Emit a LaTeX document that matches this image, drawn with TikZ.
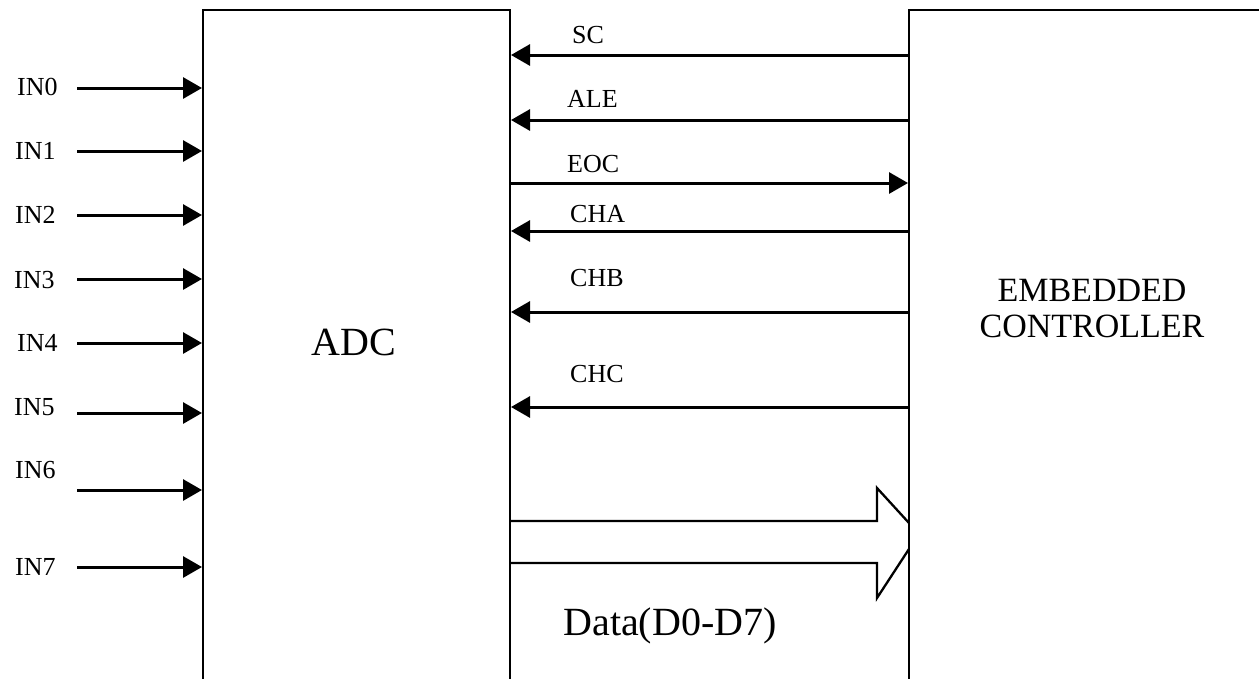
\documentclass[tikz,border=0pt]{standalone}
\usepackage{fontspec}
\setmainfont{Liberation Serif}
\usetikzlibrary{arrows.meta}
\begin{document}
\begin{tikzpicture}[x=1pt,y=-1pt,
  blockbox/.style={draw, line width=2pt, inner sep=0pt, anchor=north west},
  sig/.style={line width=3pt, -{Triangle[length=19pt,width=21pt]}},
  bus/.style={line width=2.3pt, line join=miter},
  lbl/.style={inner sep=0pt, anchor=west, font=\fontsize{26}{30}\selectfont},
  big/.style={inner sep=0pt, font=\fontsize{40}{46}\selectfont},
  mid/.style={inner sep=0pt, align=center, font=\fontsize{34}{38}\selectfont}]
\useasboundingbox (0,0) rectangle (1259,678);
% blocks
\node[blockbox, minimum width=307pt, minimum height=720pt] (adc) at (202,9) {};
\node[blockbox, minimum width=400pt, minimum height=720pt] (ctl) at (908,9) {};
\node[big] (adct) at (354,342) {ADC};
\node[mid] (ctlt) at (1092,309) {EMBEDDED\\[-2pt]CONTROLLER};
% analog inputs
\foreach \n/\ly/\ay/\lx in {0/87/88/17, 1/151/151/15, 2/215/215/15, 3/280/279/14,
                            4/343/343/17, 5/407/413/14, 6/470/490/15, 7/567/567/15}{
  \node[lbl] (in\n) at (\lx,\ly) {IN\n};
  \coordinate (s\n) at (77,\ay);
  \draw[sig] (s\n) -- (s\n -| adc.west);
}
% control signals from controller to ADC
\foreach \name/\txt/\ly/\ay/\lx in {sc/SC/35/55/572, ale/ALE/99/120/567, cha/CHA/214/231/570,
                                     chb/CHB/278/312/570, chc/CHC/374/407/570}{
  \coordinate (\name) at (908,\ay);
  \draw[sig] (\name) -- (\name -| adc.east);
  \node[lbl] (\name t) at (\lx,\ly) {\txt};
}
% EOC from ADC to controller
\coordinate (eoc) at (509,183);
\draw[sig] (eoc) -- (eoc -| ctl.west);
\node[lbl] (eoct) at (567,164) {EOC};
% data bus
\coordinate (bu) at (509,521);
\coordinate (bl) at (509,563);
\coordinate (hu) at (877,488);
\coordinate (hl) at (877,598);
\coordinate (tu) at (909,523);
\coordinate (tl) at (909,549);
\draw[bus] (bu) -- (bu -| hu) -- (hu) -- (tu);
\draw[bus] (bl) -- (bl -| hl) -- (hl) -- (tl);
\node[big, anchor=base] (data) at (670,635) {Data(D0-D7)};
\end{tikzpicture}
\end{document}
